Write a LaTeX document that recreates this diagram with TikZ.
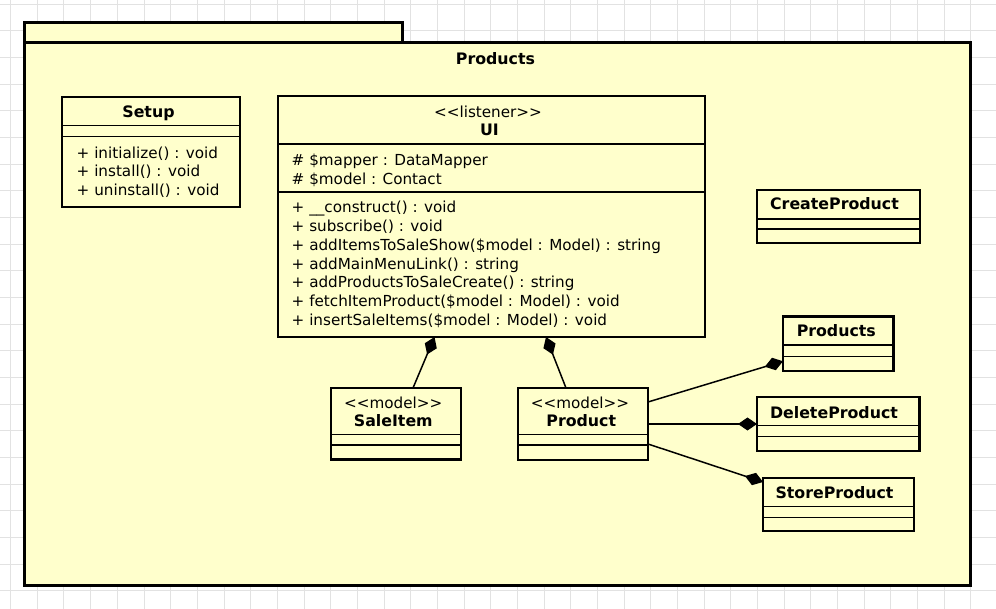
\documentclass[tikz,border=0pt]{standalone}
\usepackage{fontspec}
\setmainfont{DejaVu Sans}
\usetikzlibrary{arrows.meta}
\definecolor{umlfill}{HTML}{FFFFCC}
\definecolor{gridgray}{HTML}{E2E2E2}
\tikzset{
  cls/.style={draw=black, line width=2.9pt, fill=umlfill, inner sep=0pt, outer sep=0pt},
  pkg/.style={draw=black, line width=3pt, fill=umlfill, inner sep=0pt, outer sep=0pt},
  sepline/.style={draw=black, line width=1.3pt},
  gridline/.style={draw=gridgray, line width=0.9pt},
  txt/.style={inner sep=0pt, anchor=base west, font=\fontsize{15.2}{17}\selectfont},
  ttl/.style={inner sep=0pt, anchor=base, font=\fontsize{15.8}{17}\selectfont\bfseries},
  stereo/.style={inner sep=0pt, anchor=base, font=\fontsize{15.2}{17}\selectfont},
  comp/.style={draw=black, line width=1.5pt, -{Diamond[length=19pt,width=13pt]}}
}
\newcommand{\mysep}[3]{%
  \draw[sepline] ([yshift=-#2pt]#1.north west) -- ([yshift=-#2pt]#1.north east);
  \draw[sepline] ([yshift=-#3pt]#1.north west) -- ([yshift=-#3pt]#1.north east);}
\begin{document}
\begin{tikzpicture}[x=1pt,y=-1pt]
\useasboundingbox (0,0) rectangle (996,609);
\fill[white] (0,0) rectangle (996,609);
% grid
\foreach \i in {0,...,37} {\draw[gridline] (10.6+26.67*\i,0) -- ++(0,609);}
\foreach \j in {0,...,22} {\draw[gridline] (0,4+26.67*\j) -- ++(996,0);}
% package
\node[pkg, minimum width=378pt, minimum height=20pt] (pkgtab) at (213,33) {};
\node[pkg, minimum width=946pt, minimum height=542pt] (pkg) at (497,314) {};
\node[ttl] (pkgname) at (495.5,65) {Products};
% Setup
\node[cls, minimum width=178pt, minimum height=110pt] (setup) at (151,152) {};
\mysep{setup}{28.5}{39.5}
\node[ttl] (setupname) at (148.5,118) {Setup};
\node[txt] (s1) at (76.5,158.5) {+ initialize() : void};
\node[txt] (s2) at (76.5,176.8) {+ install() : void};
\node[txt] (s3) at (76.5,195.1) {+ uninstall() : void};
% UI
\node[cls, minimum width=427pt, minimum height=241pt] (ui) at (491.5,216.5) {};
\mysep{ui}{48}{96}
\node[stereo] (uist) at (488,118) {<{}<listener>{}>};
\node[ttl] (uiname) at (489.5,136) {UI};
\node[txt] (a1) at (291.5,166) {\# \$mapper : DataMapper};
\node[txt] (a2) at (291.5,184.5) {\# \$model : Contact};
\node[txt] (m1) at (291.5,213) {+ \_\_construct() : void};
\node[txt] (m2) at (291.5,231.7) {+ subscribe() : void};
\node[txt] (m3) at (291.5,250.4) {+ addItemsToSaleShow(\$model : Model) : string};
\node[txt] (m4) at (291.5,269.1) {+ addMainMenuLink() : string};
\node[txt] (m5) at (291.5,287.8) {+ addProductsToSaleCreate() : string};
\node[txt] (m6) at (291.5,306.5) {+ fetchItemProduct(\$model : Model) : void};
\node[txt] (m7) at (291.5,325.2) {+ insertSaleItems(\$model : Model) : void};
% SaleItem
\node[cls, minimum width=130pt, minimum height=71.5pt] (saleitem) at (396,423.75) {};
\mysep{saleitem}{46.5}{57}
\node[stereo] (sist) at (393.3,408.5) {<{}<model>{}>};
\node[ttl] (siname) at (393.3,426.5) {SaleItem};
% Product
\node[cls, minimum width=130pt, minimum height=72pt] (product) at (583,424) {};
\mysep{product}{46.5}{57}
\node[stereo] (prst) at (580,408.5) {<{}<model>{}>};
\node[ttl] (prname) at (581.3,426.5) {Product};
% CreateProduct
\node[cls, minimum width=163pt, minimum height=53pt] (createproduct) at (838.5,216.5) {};
\mysep{createproduct}{29}{39}
\node[ttl] (cpname) at (834.5,209.5) {CreateProduct};
% Products
\node[cls, minimum width=110.5pt, minimum height=54.5pt] (products) at (838.25,343.75) {};
\mysep{products}{28.5}{40.2}
\node[ttl] (psname) at (836.3,336.5) {Products};
% DeleteProduct
\node[cls, minimum width=162.5pt, minimum height=54pt] (deleteproduct) at (838.25,424) {};
\mysep{deleteproduct}{28.7}{39.3}
\node[ttl] (dpname) at (834,418) {DeleteProduct};
% StoreProduct
\node[cls, minimum width=151pt, minimum height=53pt] (storeproduct) at (838.5,504.5) {};
\mysep{storeproduct}{28.7}{39.3}
\node[ttl] (spname) at (834.5,498) {StoreProduct};
% connectors
\draw[comp] ([xshift=17pt]saleitem.north) -- ([xshift=-57pt]ui.south);
\draw[comp] ([xshift=-17pt]product.north) -- ([xshift=54.5pt]ui.south);
\draw[comp] ([yshift=22pt]product.east) -- ([yshift=-17.5pt]products.west);
\draw[comp] (product.east) -- (deleteproduct.west);
\draw[comp] ([yshift=-20pt]product.east) -- ([yshift=22.5pt]storeproduct.west);
\end{tikzpicture}
\end{document}
